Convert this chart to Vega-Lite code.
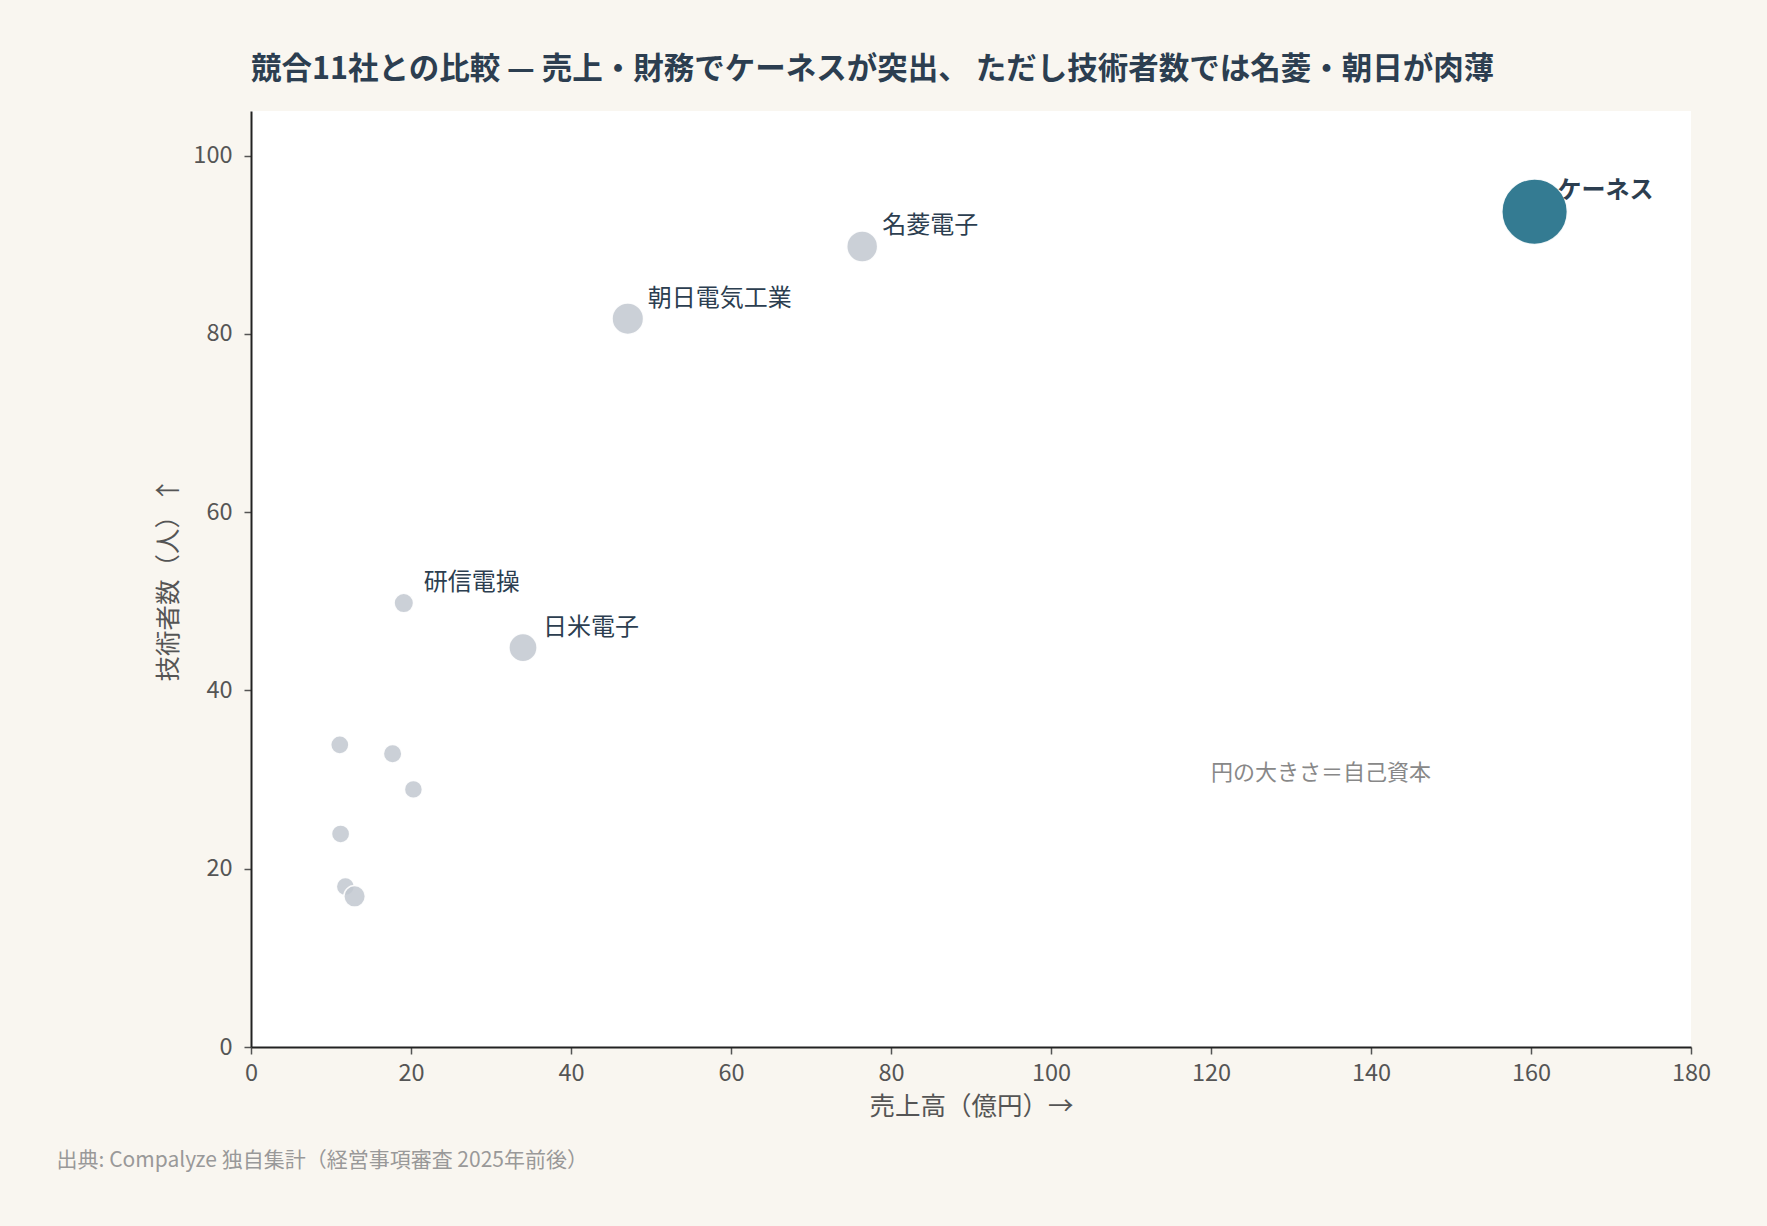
{
  "$schema": "https://vega.github.io/schema/vega-lite/v6.json",
  "width": 1440,
  "height": 936,
  "autosize": {"type": "none"},
  "padding": {"left": 251, "top": 111, "right": 76, "bottom": 179},
  "background": "#f9f6f0",
  "config": {
    "view": {"fill": "#ffffff", "stroke": null},
    "font": "Noto Sans CJK JP",
    "axis": {
      "grid": false,
      "labelFlush": false,
      "labelOverlap": false,
      "domainColor": "#222222",
      "domainWidth": 2,
      "tickColor": "#555555",
      "tickSize": 7,
      "tickWidth": 1.5,
      "labelColor": "#555555",
      "labelFontSize": 23.5,
      "labelPadding": 7,
      "titleColor": "#555555",
      "titleFontSize": 25.5,
      "titleFontWeight": "normal",
      "labelFont": "Noto Sans CJK JP",
      "titleFont": "Noto Sans CJK JP"
    }
  },
  "title": {
    "text": "競合11社との比較 — 売上・財務でケーネスが突出、 ただし技術者数では名菱・朝日が肉薄",
    "anchor": "start",
    "frame": "group",
    "fontSize": 30.5,
    "fontWeight": "bold",
    "color": "#2c3e50",
    "font": "Noto Sans CJK JP",
    "offset": 26
  },
  "data": {
    "values": [
      {"name": "ケーネス", "sales": 160.45, "engineers": 93.7, "equity": 120, "group": "自社", "kind": "point", "labeled": false},
      {"name": "名菱電子", "sales": 76.4, "engineers": 89.8, "equity": 26.7, "group": "競合", "kind": "point", "labeled": true},
      {"name": "朝日電気工業", "sales": 47.1, "engineers": 81.7, "equity": 27.7, "group": "競合", "kind": "point", "labeled": true},
      {"name": "研信電操", "sales": 19.1, "engineers": 49.8, "equity": 10.6, "group": "競合", "kind": "point", "labeled": true},
      {"name": "日米電子", "sales": 34.0, "engineers": 44.8, "equity": 22.1, "group": "競合", "kind": "point", "labeled": true},
      {"name": "他社A", "sales": 11.1, "engineers": 33.9, "equity": 9.2, "group": "競合", "kind": "point", "labeled": false},
      {"name": "他社B", "sales": 17.7, "engineers": 32.9, "equity": 9.5, "group": "競合", "kind": "point", "labeled": false},
      {"name": "他社C", "sales": 20.3, "engineers": 28.9, "equity": 9.0, "group": "競合", "kind": "point", "labeled": false},
      {"name": "他社D", "sales": 11.2, "engineers": 23.9, "equity": 9.2, "group": "競合", "kind": "point", "labeled": false},
      {"name": "他社E", "sales": 11.8, "engineers": 18.0, "equity": 9.2, "group": "競合", "kind": "point", "labeled": false},
      {"name": "他社F", "sales": 12.95, "engineers": 16.9, "equity": 12.9, "group": "競合", "kind": "point", "labeled": false},
      {"name": "円の大きさ＝自己資本", "sales": 120, "engineers": 30, "kind": "note"},
      {"name": "出典: Compalyze 独自集計（経営事項審査 2025年前後）", "sales": -24.3, "engineers": -12.75, "kind": "source"}
    ]
  },
  "encoding": {
    "x": {
      "field": "sales",
      "type": "quantitative",
      "scale": {"domain": [0, 180], "nice": false, "zero": true},
      "axis": {"title": "売上高（億円）→", "values": [0, 20, 40, 60, 80, 100, 120, 140, 160, 180], "titlePadding": 10, "labelPadding": 7}
    },
    "y": {
      "field": "engineers",
      "type": "quantitative",
      "scale": {"domain": [0, 105], "nice": false, "zero": true},
      "axis": {"title": "技術者数（人）↑", "values": [0, 20, 40, 60, 80, 100], "titlePadding": 11, "labelPadding": 12}
    }
  },
  "layer": [
    {
      "transform": [{"filter": "datum.kind === 'point'"}],
      "mark": {"type": "circle", "stroke": "#ffffff", "strokeWidth": 1.5, "fillOpacity": 0.85, "strokeOpacity": 0.9},
      "encoding": {
        "size": {"field": "equity", "type": "quantitative", "scale": {"domain": [0, 120], "range": [0, 4290], "zero": true}, "legend": null},
        "color": {"field": "group", "type": "nominal", "scale": {"domain": ["自社", "競合"], "range": ["#10647f", "#c2c8d0"]}, "legend": null}
      }
    },
    {
      "transform": [{"filter": "datum.kind === 'point' && datum.labeled"}],
      "mark": {"type": "text", "align": "left", "baseline": "middle", "dx": 20, "dy": -20, "fontSize": 24, "color": "#2c3e50", "font": "Noto Sans CJK JP"},
      "encoding": {"text": {"field": "name"}}
    },
    {
      "transform": [{"filter": "datum.group === '自社'"}],
      "mark": {"type": "text", "align": "left", "baseline": "middle", "dx": 23, "dy": -21, "fontSize": 24, "fontWeight": "bold", "color": "#2c3e50", "font": "Noto Sans CJK JP"},
      "encoding": {"text": {"field": "name"}}
    },
    {
      "transform": [{"filter": "datum.kind === 'note'"}],
      "mark": {"type": "text", "align": "left", "baseline": "alphabetic", "fontSize": 22, "color": "#888888", "font": "Noto Sans CJK JP"},
      "encoding": {"text": {"field": "name"}}
    },
    {
      "transform": [{"filter": "datum.kind === 'source'"}],
      "mark": {"type": "text", "align": "left", "baseline": "middle", "fontSize": 21, "color": "#999999", "font": "Noto Sans CJK JP"},
      "encoding": {"text": {"field": "name"}}
    }
  ]
}
